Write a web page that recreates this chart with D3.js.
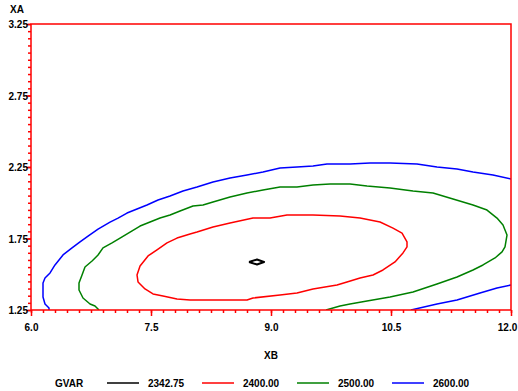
<html>
<head>
<script src="https://cdn.jsdelivr.net/npm/d3@7"></script>
</head>
<body style="margin:0">
<style>
  text { font-family: "Liberation Sans", Arial, sans-serif; font-size: 10px; font-weight: bold; fill: #000; }
  .contour { fill: none; stroke-width: 1.5; stroke-linejoin: round; }
</style>
<svg width="518" height="391" id="chart"></svg>
<script>
// contour levels of GVAR and their colours
var levels = ["2342.75", "2400.00", "2500.00", "2600.00"];
var colors = ["#000000", "#ff0000", "#008000", "#0000ff"];

var xTicks = [6.0, 7.5, 9.0, 10.5, 12.0];
var yTicks = [1.25, 1.75, 2.25, 2.75, 3.25];

// contour traces, [XB, XA]
var level0 = [[8.725,1.586],[8.825,1.603],[8.913,1.586],[8.825,1.568],[8.725,1.586]];

var level1 = [[7.988,1.781],[7.825,1.753],[7.70,1.719],[7.575,1.670],[7.463,1.628],[7.363,1.558],
  [7.325,1.495],[7.338,1.446],[7.425,1.397],[7.525,1.362],[7.65,1.348],[7.825,1.327],[7.988,1.320],
  [8.70,1.320],[8.775,1.334],[9.113,1.355],[9.325,1.369],[9.525,1.397],[9.825,1.425],[9.95,1.446],
  [10.113,1.474],[10.275,1.495],[10.40,1.530],[10.55,1.586],[10.65,1.649],[10.70,1.691],[10.70,1.726],
  [10.638,1.788],[10.525,1.823],[10.363,1.865],[10.113,1.893],[9.863,1.907],[9.525,1.914],[9.20,1.914],
  [8.988,1.893],[8.775,1.893],[8.488,1.858],[8.275,1.830],[8.075,1.795],[7.988,1.781]];

var level2 = [[6.85,1.25],[6.80,1.278],[6.738,1.292],[6.65,1.334],[6.60,1.390],[6.60,1.439],[6.638,1.495],
  [6.675,1.551],[6.763,1.593],[6.838,1.635],[6.90,1.684],[7.013,1.719],[7.113,1.753],[7.238,1.795],
  [7.363,1.837],[7.488,1.865],[7.613,1.893],[7.738,1.914],[7.863,1.942],[8.025,1.977],[8.15,1.984],
  [8.275,2.005],[8.488,2.040],[8.70,2.068],[8.90,2.089],[9.113,2.110],[9.325,2.110],[9.525,2.124],
  [9.738,2.131],[9.988,2.131],[10.20,2.117],[10.488,2.103],[10.775,2.082],[11.025,2.068],[11.275,2.026],
  [11.525,1.984],[11.70,1.949],[11.825,1.893],[11.90,1.844],[11.95,1.774],[11.925,1.691],[11.888,1.656],
  [11.80,1.614],[11.65,1.565],[11.525,1.530],[11.325,1.481],[11.075,1.432],[10.775,1.376],[10.488,1.341],
  [10.20,1.313],[9.988,1.292],[9.863,1.278],[9.688,1.25]];

var level3a = [[6.225,1.25],[6.225,1.264],[6.175,1.292],[6.15,1.341],[6.15,1.439],[6.175,1.474],[6.238,1.509],
  [6.30,1.565],[6.40,1.635],[6.513,1.684],[6.613,1.726],[6.713,1.767],[6.838,1.816],[6.988,1.865],
  [7.088,1.893],[7.20,1.928],[7.325,1.956],[7.45,1.984],[7.588,2.019],[7.738,2.047],[7.90,2.082],
  [8.075,2.110],[8.275,2.145],[8.488,2.173],[8.70,2.194],[8.90,2.215],[9.113,2.243],[9.325,2.250],
  [9.525,2.257],[9.70,2.271],[9.988,2.271],[10.238,2.278],[10.488,2.278],[10.825,2.271],[11.075,2.250],
  [11.325,2.236],[11.525,2.215],[11.775,2.194],[12.0,2.166]];
var level3b = [[10.75,1.25],[11.075,1.292],[11.325,1.320],[11.613,1.369],[11.825,1.404],[12.0,1.425]];

var traces = [
  {level: 0, pts: level0},
  {level: 1, pts: level1},
  {level: 2, pts: level2},
  {level: 3, pts: level3a},
  {level: 3, pts: level3b}
];

var svg = d3.select("#chart"),
    m = {left: 31, right: 511, top: 24, bottom: 310};

var x = d3.scaleLinear().domain([6, 12]).range([m.left, m.right]);
var y = d3.scaleLinear().domain([1.25, 3.25]).range([m.bottom, m.top]);

svg.append("clipPath").attr("id", "clip")
  .append("rect").attr("x", m.left).attr("y", m.top)
  .attr("width", m.right - m.left).attr("height", m.bottom - m.top);

var line = d3.line()
  .x(function(d) { return x(d[0]); })
  .y(function(d) { return y(d[1]); });

svg.append("g").attr("clip-path", "url(#clip)")
  .selectAll("path")
  .data(traces)
  .enter().append("path")
  .attr("class", "contour")
  .attr("d", function(d) { return line(d.pts); })
  .style("stroke", function(d) { return colors[d.level]; })
  .style("stroke-width", function(d) { return d.level == 0 ? 2 : 1.5; });

// frame
svg.append("rect")
  .attr("x", m.left).attr("y", m.top).attr("width", m.right - m.left).attr("height", m.bottom - m.top)
  .style("fill", "none").style("stroke", "#ff0000").style("stroke-width", 1.5);

// minor ticks: 10 intervals between majors
var xMinor = d3.range(0, 41).map(function(i) { return 6 + i * 0.15; });
var yMinor = d3.range(0, 41).map(function(i) { return 1.25 + i * 0.05; });

svg.append("g").attr("transform", "translate(0," + m.bottom + ")")
  .call(d3.axisBottom(x).tickValues(xMinor).tickSize(3).tickFormat(""));
svg.append("g").attr("transform", "translate(" + m.left + ",0)")
  .call(d3.axisLeft(y).tickValues(yMinor).tickSize(3).tickFormat(""));

var gx = svg.append("g").attr("transform", "translate(0," + m.bottom + ")")
  .call(d3.axisBottom(x).tickValues(xTicks).tickSize(6).tickFormat(d3.format(".1f")));
var gy = svg.append("g").attr("transform", "translate(" + m.left + ",0)")
  .call(d3.axisLeft(y).tickValues(yTicks).tickSize(5).tickFormat(d3.format(".2f")));

svg.selectAll(".domain").remove();
svg.selectAll(".tick line").style("stroke", "#ff0000").style("stroke-width", 1.5);
svg.selectAll("g").attr("font-family", null).attr("font-size", null);
svg.selectAll(".tick text").attr("fill", "#000");
gx.selectAll(".tick text").attr("dy", "0").attr("y", 21)
  .attr("dx", function(d) { return d == 12 ? -4 : 0; });
gy.selectAll(".tick text").attr("x", -3).attr("dy", "0.35em");

svg.append("text").attr("x", 17).attr("y", 13).attr("text-anchor", "middle").text("XA");
svg.append("text").attr("x", (m.left + m.right) / 2).attr("y", 359).attr("text-anchor", "middle").text("XB");

// legend
var legendY = 383;
svg.append("text").attr("x", 55).attr("y", legendY + 4).text("GVAR");
var item = svg.selectAll(".legend")
  .data(levels)
  .enter().append("g")
  .attr("class", "legend")
  .attr("transform", function(d, i) { return "translate(" + (107 + i * 95) + "," + legendY + ")"; });
item.append("line")
  .attr("x1", 0).attr("x2", 32).attr("y1", 0).attr("y2", 0)
  .style("stroke", function(d, i) { return colors[i]; })
  .style("stroke-width", 1.5);
item.append("text").attr("x", 41).attr("y", 4).text(function(d) { return d; });
</script>
</body>
</html>
